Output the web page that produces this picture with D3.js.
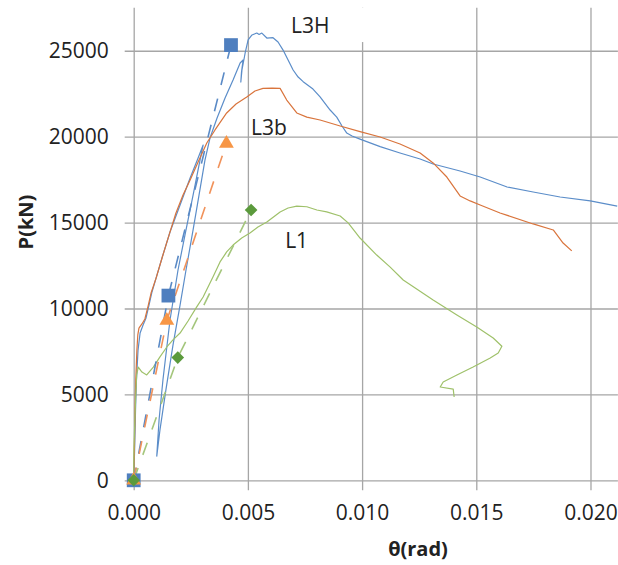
<!DOCTYPE html>
<html>
<head>
<meta charset="utf-8">
<script src="https://cdn.jsdelivr.net/npm/d3@7"></script>
<style>
  body { margin: 0; background: #fff; }
  text { font-family: "Open Sans", sans-serif; fill: #222; }
</style>
</head>
<body>
<svg id="chart" width="618" height="565"></svg>
<script>
// test curves, [theta (rad), P (kN)]
var l3hTest = [
  [0, 0], [0.00004, 1760], [0.00008, 4090], [0.00012, 5840], [0.00019, 7580],
  [0.00028, 8570], [0.00041, 9040], [0.00054, 9450], [0.00067, 10200], [0.0008, 10960],
  [0.00098, 11770], [0.00124, 12940], [0.00159, 14450], [0.00203, 16020], [0.00247, 17590],
  [0.00282, 18760], [0.00304, 19510],
  [0.00286, 18350], [0.0026, 16600], [0.00229, 14570], [0.00194, 12240], [0.00159, 9330],
  [0.00128, 5840], [0.00111, 3510], [0.00101, 1410],
  [0.00115, 2930], [0.00141, 5260], [0.00172, 7870], [0.00203, 10200], [0.00229, 12240],
  [0.0026, 14570], [0.00286, 16600], [0.00312, 18640], [0.00334, 19920], [0.00365, 21090],
  [0.004, 22250], [0.00435, 23300], [0.00466, 24290], [0.00479, 24460],
  [0.00472, 23760], [0.00469, 23180],
  [0.00474, 23880], [0.00488, 24870], [0.00501, 25630], [0.00518, 25920], [0.00539, 26030],
  [0.00549, 25950], [0.00561, 26030], [0.00583, 25740], [0.0061, 25760], [0.00632, 25510],
  [0.00654, 25040], [0.00676, 24460], [0.00698, 23880], [0.0072, 23470], [0.00742, 23200],
  [0.00785, 22770], [0.00816, 22310], [0.0086, 21550], [0.00889, 21140], [0.00912, 20620],
  [0.00933, 20210], [0.00956, 20040], [0.00991, 19860], [0.01079, 19420], [0.01166, 19050],
  [0.01254, 18700], [0.01311, 18410], [0.01429, 18000], [0.01517, 17650], [0.01635, 17070],
  [0.01749, 16780], [0.01867, 16490], [0.01999, 16260], [0.02117, 15960]
];

var l3bTest = [
  [0, 0], [0.00003, 1760], [0.00006, 4090], [0.00009, 5840], [0.00014, 7580],
  [0.00018, 8460], [0.00023, 8860], [0.00036, 9100], [0.00049, 9390], [0.00063, 10140],
  [0.00076, 10900], [0.00098, 11770], [0.00124, 12940], [0.00155, 14280], [0.00185, 15560],
  [0.00216, 16600], [0.00247, 17480], [0.00282, 18530], [0.0032, 19630], [0.00356, 20390],
  [0.00407, 21380], [0.00448, 21900], [0.00495, 22310], [0.00531, 22660], [0.00566, 22810],
  [0.00606, 22830], [0.00641, 22810], [0.0067, 22130], [0.00714, 21380], [0.00758, 21140],
  [0.00816, 20970], [0.00904, 20620], [0.00991, 20290], [0.01079, 19980], [0.01166, 19570],
  [0.01254, 19050], [0.01311, 18470], [0.01371, 17650], [0.01429, 16550], [0.01473, 16260],
  [0.01517, 16020], [0.01604, 15560], [0.01749, 14920], [0.01837, 14570], [0.0188, 13810],
  [0.01918, 13350]
];

var l1Test = [
  [0, 0], [0.00001, 1760], [0.00005, 3510], [0.00009, 4960], [0.00013, 6130],
  [0.0002, 6590], [0.00036, 6300], [0.00057, 6130], [0.00071, 6360], [0.00086, 6590],
  [0.00115, 7180], [0.00145, 7760], [0.00172, 8170], [0.00203, 8570], [0.00238, 9270],
  [0.00276, 10090], [0.00304, 10670], [0.00347, 11830], [0.00378, 12710], [0.00407, 13290],
  [0.00435, 13690], [0.00473, 14100], [0.00509, 14390], [0.00544, 14740], [0.00583, 15030],
  [0.00641, 15620], [0.00676, 15850], [0.00714, 15960], [0.00758, 15920], [0.00802, 15730],
  [0.00845, 15620], [0.00904, 15380], [0.00939, 14980], [0.00991, 14100], [0.01064, 13110],
  [0.01123, 12410], [0.0118, 11660], [0.01311, 10490], [0.01415, 9620], [0.01502, 8920],
  [0.01574, 8280], [0.01612, 7800], [0.01596, 7410], [0.01561, 7120], [0.01486, 6590],
  [0.01415, 6130], [0.01355, 5720], [0.01342, 5430], [0.01399, 5310], [0.01403, 4850]
];

// model points (dashed, with markers)
var l3hModel = [[0, 0], [0.00152, 10750], [0.00426, 25330]];
var l3bModel = [[0, 0], [0.00145, 9300], [0.00406, 19600]];
var l1Model = [[0, 0], [0.00193, 7140], [0.00514, 15730]];

var seriesNames = ["L3H", "L3b", "L1"];
var labelAt = [[0.00689, 26030], [0.00514, 20100], [0.00663, 13520]];

var xTicks = [0, 0.005, 0.010, 0.015, 0.020];
var yTicks = [0, 5000, 10000, 15000, 20000, 25000];

var svg = d3.select("#chart");

var plotLeft = 133.7, plotRight = 617.9, plotTop = 7.8, plotBottom = 480.3;

var xScale = d3.scaleLinear()
    .domain([0, 0.0212])
    .range([plotLeft, plotRight]);

var yScale = d3.scaleLinear()
    .domain([0, 27500])
    .range([plotBottom, plotTop]);

var gridColor = "#a6a6a6";

// y gridlines + ticks
var yAxis = d3.axisLeft(yScale)
    .tickValues(yTicks)
    .tickSize(-(plotRight - plotLeft + 9))
    .tickPadding(16)
    .tickFormat(d3.format("d"));

var gy = svg.append("g")
    .attr("transform", "translate(" + (plotLeft - 9) + ",0)")
    .call(yAxis);
gy.select(".domain").remove();
gy.selectAll("line").attr("stroke", gridColor).attr("stroke-width", 1.3);
gy.selectAll("text")
    .style("font-size", "21px")
    .style("font-family", "'Open Sans', sans-serif")
    .attr("fill", "#222");

// x gridlines + ticks
var xAxis = d3.axisBottom(xScale)
    .tickValues(xTicks)
    .tickSize(-(plotBottom + 10 - plotTop))
    .tickPadding(15)
    .tickFormat(d3.format(".3f"));

var gx = svg.append("g")
    .attr("transform", "translate(0," + (plotBottom + 10) + ")")
    .call(xAxis);
gx.select(".domain").remove();
gx.selectAll("line").attr("stroke", gridColor).attr("stroke-width", 1.3);
gx.selectAll("text")
    .style("font-size", "21px")
    .style("font-family", "'Open Sans', sans-serif")
    .attr("fill", "#222");

// axis titles
svg.append("text")
    .attr("transform", "translate(33,222) rotate(-90)")
    .style("text-anchor", "middle")
    .style("font-size", "20px")
    .style("font-weight", "bold")
    .text("P(kN)");

svg.append("text")
    .attr("x", 418)
    .attr("y", 556)
    .style("text-anchor", "middle")
    .style("font-size", "20px")
    .style("font-weight", "bold")
    .text("θ(rad)");

// white box behind the L3H label
svg.append("rect")
    .attr("x", xScale(labelAt[0][0]) - 8)
    .attr("y", plotTop)
    .attr("width", 84)
    .attr("height", yScale(labelAt[0][1]) + 9 - plotTop)
    .attr("fill", "#fff");

var line = d3.line()
    .x(function(d) { return xScale(d[0]); })
    .y(function(d) { return yScale(d[1]); });

var testSeries = [
  {data: l3hTest, color: "#5b8dc9"},
  {data: l3bTest, color: "#d9743c"},
  {data: l1Test, color: "#9fc16a"}
];

svg.selectAll(".test")
    .data(testSeries)
    .enter().append("path")
    .attr("class", "test")
    .attr("d", function(d) { return line(d.data); })
    .attr("fill", "none")
    .attr("stroke", function(d) { return d.color; })
    .attr("stroke-width", 1.2)
    .attr("stroke-linejoin", "round");

var modelSeries = [
  {data: l3hModel, line: "#5a8ac6", fill: "#4f7fbf", symbol: d3.symbolSquare, size: 190, rot: 0},
  {data: l3bModel, line: "#f1925a", fill: "#f79646", symbol: d3.symbolTriangle, size: 95, rot: 0},
  {data: l1Model, line: "#a4c67c", fill: "#5b9a3c", symbol: d3.symbolSquare, size: 80, rot: 45}
];

svg.selectAll(".model")
    .data(modelSeries)
    .enter().append("path")
    .attr("class", "model")
    .attr("d", function(d) { return line(d.data); })
    .attr("fill", "none")
    .attr("stroke", function(d) { return d.line; })
    .attr("stroke-width", 1.6)
    .attr("stroke-dasharray", "13,14");

modelSeries.forEach(function(s) {
    svg.selectAll(null)
        .data(s.data)
        .enter().append("path")
        .attr("d", d3.symbol().type(s.symbol).size(s.size))
        .attr("transform", function(d) {
            return "translate(" + xScale(d[0]) + "," + yScale(d[1]) + ") rotate(" + s.rot + ")";
        })
        .attr("fill", s.fill);
});

// series labels
svg.selectAll(".label")
    .data(seriesNames)
    .enter().append("text")
    .attr("class", "label")
    .attr("x", function(d, i) { return xScale(labelAt[i][0]); })
    .attr("y", function(d, i) { return yScale(labelAt[i][1]); })
    .style("font-size", "21px")
    .text(function(d) { return d; });
</script>
</body>
</html>
